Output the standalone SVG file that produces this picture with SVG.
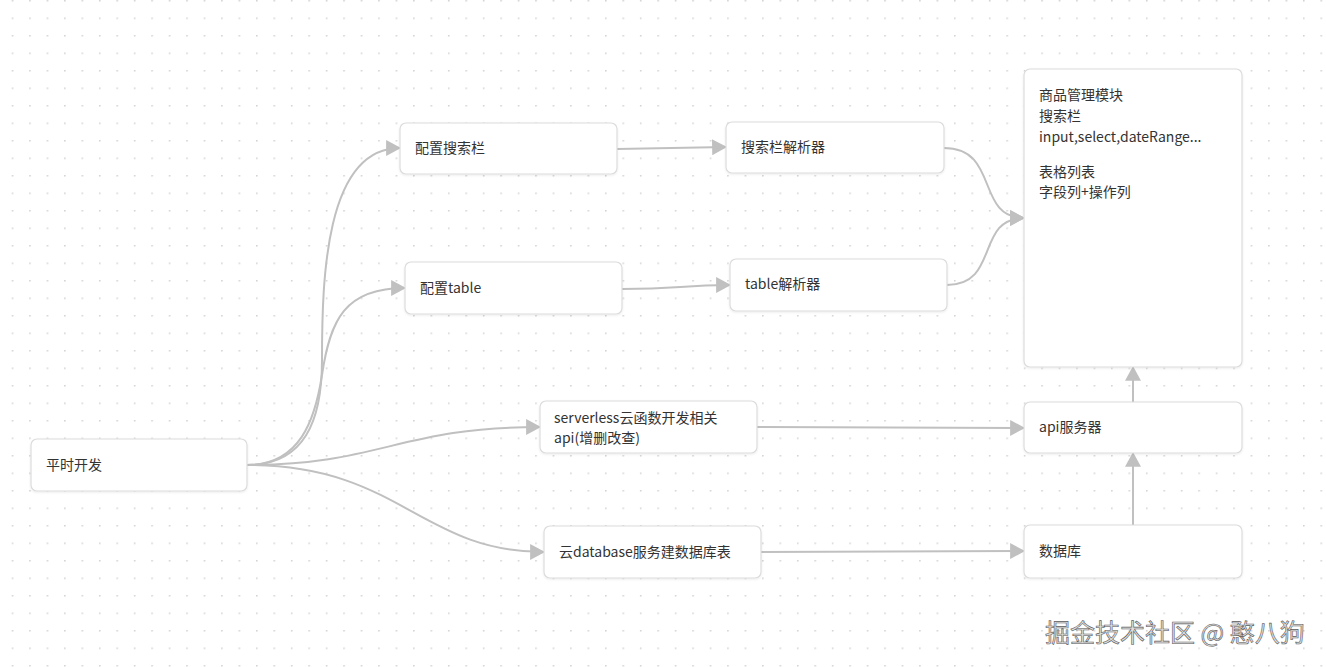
<svg xmlns="http://www.w3.org/2000/svg" width="1326" height="667" viewBox="0 0 1326 667">
<defs>
<pattern id="dots" x="11.7" y="0" width="17.45" height="17.5" patternUnits="userSpaceOnUse">
<circle cx="0.8" cy="0.8" r="0.9" fill="#d2d2d2"/>
</pattern>
<marker id="arr" markerUnits="userSpaceOnUse" markerWidth="16" markerHeight="16" viewBox="0 0 14 15" refX="13" refY="7.5" orient="auto">
<path d="M0,0 L14,7.5 L0,15 Z" fill="#c0c0c0"/>
</marker>
<filter id="sh" x="-5%" y="-10%" width="110%" height="130%">
<feDropShadow dx="0" dy="1" stdDeviation="1" flood-color="#000" flood-opacity="0.08"/>
</filter>
</defs>
<style>
.box{fill:#fff;stroke:#dcdcdc;stroke-width:1.2}
.t{font-family:"Noto Sans CJK SC","Microsoft YaHei","Noto Sans",sans-serif;font-size:14px;fill:#333}
.e{fill:none;stroke:#c0c0c0;stroke-width:2;marker-end:url(#arr)}
.wm{font-family:"Noto Sans CJK SC","Noto Sans",sans-serif;font-size:25px;fill:#dedede;stroke:#5a5a5a;stroke-width:0.6}
</style>
<rect width="1326" height="667" fill="#fff"/>
<rect width="1326" height="667" fill="url(#dots)"/>
<g id="connectors">
<path class="e" d="M247,465 C305,465 322,420 322,360 C322,280 325,148 400,148"/>
<path class="e" d="M247,465 C300,465 315,420 322,375 C330,320 345,288 405,288"/>
<path class="e" d="M247,465 C380,465 400,427 540,427"/>
<path class="e" d="M247,465 C400,465 420,552 544,552"/>
<path class="e" d="M617,149 L726,147"/>
<path class="e" d="M622,289 C680,289 680,285 730,285"/>
<path class="e" d="M944,148 C1000,148 975,218 1024,218"/>
<path class="e" d="M947,285 C1000,285 975,218 1024,218"/>
<path class="e" d="M757,427 L1024,428"/>
<path class="e" d="M761,552 L1024,551"/>
<path class="e" d="M1133,525 L1133,453"/>
<path class="e" d="M1133,402 L1133,367"/>
</g>
<g id="n-dev"><rect class="box" filter="url(#sh)" x="31" y="439" width="216" height="52" rx="6"/><text class="t" x="46" y="470">平时开发</text></g>
<g id="n-cfg-search"><rect class="box" filter="url(#sh)" x="400" y="123" width="217" height="51" rx="6"/><text class="t" x="415" y="153">配置搜索栏</text></g>
<g id="n-cfg-table"><rect class="box" filter="url(#sh)" x="405" y="262" width="217" height="52" rx="6"/><text class="t" x="420" y="293">配置table</text></g>
<g id="n-search-parser"><rect class="box" filter="url(#sh)" x="726" y="122" width="218" height="51" rx="6"/><text class="t" x="741" y="152">搜索栏解析器</text></g>
<g id="n-table-parser"><rect class="box" filter="url(#sh)" x="730" y="259" width="217" height="52" rx="6"/><text class="t" x="745" y="289">table解析器</text></g>
<g id="n-serverless"><rect class="box" filter="url(#sh)" x="540" y="401" width="217" height="52" rx="6"/><text class="t" x="554" y="423">serverless云函数开发相关</text><text class="t" x="554" y="443">api(增删改查)</text></g>
<g id="n-clouddb"><rect class="box" filter="url(#sh)" x="544" y="526" width="217" height="52" rx="6"/><text class="t" x="559" y="557">云database服务建数据库表</text></g>
<g id="n-module"><rect class="box" filter="url(#sh)" x="1024" y="69" width="218" height="298" rx="6"/>
<text class="t" x="1039" y="100">商品管理模块</text>
<text class="t" x="1039" y="121">搜索栏</text>
<text class="t" x="1039" y="142">input,select,dateRange...</text>
<text class="t" x="1039" y="177">表格列表</text>
<text class="t" x="1039" y="197">字段列+操作列</text></g>
<g id="n-api"><rect class="box" filter="url(#sh)" x="1024" y="402" width="218" height="51" rx="6"/><text class="t" x="1039" y="432">api服务器</text></g>
<g id="n-db"><rect class="box" filter="url(#sh)" x="1024" y="525" width="218" height="53" rx="6"/><text class="t" x="1039" y="556">数据库</text></g>
<text class="wm" x="1045" y="642">掘金技术社区 @ 憨八狗</text>
</svg>
